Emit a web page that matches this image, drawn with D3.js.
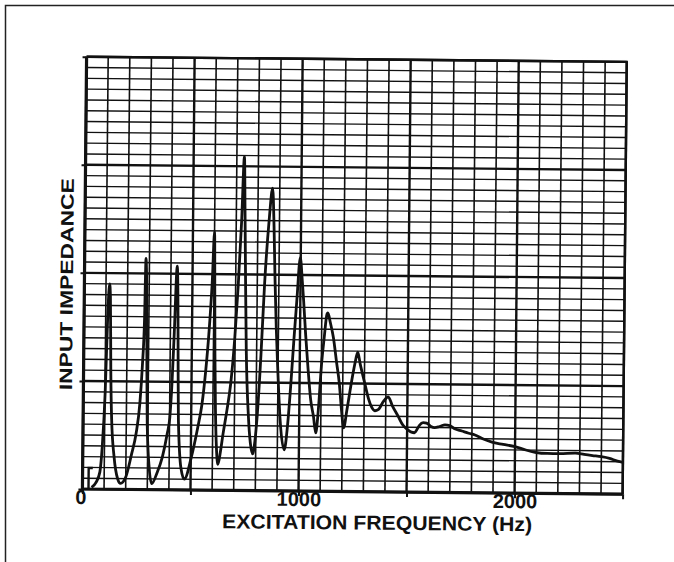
<!DOCTYPE html>
<html>
<head>
<meta charset="utf-8">
<script src="https://cdn.jsdelivr.net/npm/d3@7"></script>
<style>
  body { margin: 0; background: #fff; }
  text { font-family: "Liberation Sans", Arial, sans-serif; font-weight: bold; fill: #111; }
</style>
</head>
<body>
<div id="chart"></div>
<script>
// values: frequency in Hz, impedance in grid divisions
const freq = [42, 62, 80, 90, 101, 110, 117, 121, 126, 132, 145, 162, 176, 199, 225, 246, 262, 272, 280, 284,
  289, 293, 297, 308, 320, 345, 368, 390, 401, 410, 418, 429, 434, 437, 441, 455, 471, 502, 530, 549,
  565, 578, 592, 600, 604, 607, 612, 618, 626, 637, 648, 665, 681, 698, 712, 725, 735, 740, 746, 752,
  765, 775, 786, 796, 805, 820, 834, 852, 867, 875, 882, 890, 898, 912, 932, 946, 960, 972, 984, 998,
  1008, 1015, 1026, 1038, 1052, 1066, 1077, 1088, 1100, 1112, 1124, 1128, 1140, 1155, 1170, 1184, 1195, 1206, 1220, 1240,
  1255, 1268, 1280, 1301, 1320, 1333, 1350, 1365, 1390, 1411, 1430, 1458, 1480, 1504, 1520, 1534, 1548, 1557, 1574, 1590,
  1610, 1627, 1650, 1675, 1697, 1720, 1753, 1785, 1814, 1850, 1893, 1945, 2000, 2050, 2093, 2150, 2205, 2280, 2320, 2359,
  2400, 2438, 2475, 2500];
const impedance = [0.15, 0.6, 1.6, 4.0, 9.0, 16.5, 19.0, 17.8, 11, 6.5, 3.0, 1.0, 0.55, 1.1, 3.2, 5.2, 8, 11.5, 15.9, 21.4,
  18, 11, 6, 2.0, 0.55, 1.6, 3.0, 5.2, 6.65, 10, 14.5, 20.7, 17, 12, 6.5, 2.0, 1.0, 3.0, 5.7, 7.9,
  11, 14.4, 19.5, 23.9, 18, 12.8, 7.5, 4.0, 2.4, 3.6, 5.2, 7.4, 9.8, 14, 19.0, 25, 30.9, 26, 19, 13,
  6.8, 4.4, 3.4, 4.6, 6.8, 12.5, 19.2, 25, 28.0, 24.5, 19.5, 15, 11.5, 6.5, 3.8, 6, 10, 14, 17.7, 21.6,
  19.5, 17.7, 14.5, 11.5, 8.5, 6.9, 5.4, 7.5, 11.5, 14.2, 16.4, 16.5, 15.6, 14.2, 12, 10, 7.6, 5.9, 7.5, 10.1,
  11.8, 12.9, 11.8, 10.1, 8.6, 7.9, 7.5, 7.6, 8.4, 8.8, 8.0, 7.0, 6.2, 5.75, 5.55, 5.5, 5.9, 6.2, 6.45, 6.4,
  6.1, 6.0, 6.1, 6.25, 6.2, 5.9, 5.7, 5.5, 5.35, 5.0, 4.7, 4.5, 4.3, 4.0, 3.8, 3.7, 3.7, 3.75, 3.65, 3.55,
  3.45, 3.3, 3.05, 2.95];

// little pen mark where the trace starts
const startFreq = [28, 28, 47];
const startImp = [0, 1.95, 1.95];

const xTicks = [0, 500, 1000, 1500, 2000, 2500];
const xTickLabels = ["0", "", "1000", "", "2000", ""];
const yTicks = [0, 10, 20, 30, 40];
const xTitle = "EXCITATION FREQUENCY (Hz)";
const yTitle = "INPUT IMPEDANCE";

const width = 674, height = 562;
const plot = { left: 84.5, right: 624.7, top: 59.3, bottom: 491.6 };

const x = d3.scaleLinear().domain([0, 2500]).range([plot.left, plot.right]);
const y = d3.scaleLinear().domain([0, 40]).range([plot.bottom, plot.top]);

const svg = d3.select("#chart").append("svg")
    .attr("width", width)
    .attr("height", height);

// page edge visible in the scan
svg.append("path")
    .attr("d", "M5.5,562V5.5H674")
    .attr("fill", "none")
    .attr("stroke", "#222")
    .attr("stroke-width", 1.5);

// the scan is slightly tilted
const g = svg.append("g")
    .attr("transform", "rotate(0.55,354.6,275.5)");

// grid
g.append("g").selectAll("line")
    .data(d3.range(0, 2501, 100))
  .enter().append("line")
    .attr("x1", d => x(d)).attr("x2", d => x(d))
    .attr("y1", plot.top).attr("y2", plot.bottom)
    .attr("stroke", "#111")
    .attr("stroke-width", d => d % 500 === 0 ? 2.4 : 1.6);

g.append("g").selectAll("line")
    .data(d3.range(0, 41, 1))
  .enter().append("line")
    .attr("x1", plot.left).attr("x2", plot.right)
    .attr("y1", d => y(d)).attr("y2", d => y(d))
    .attr("stroke", "#111")
    .attr("stroke-width", d => d % 10 === 0 ? 2.4 : 1.4);

// axes
const xAxis = g.append("g")
    .attr("transform", "translate(0," + plot.bottom + ")")
    .call(d3.axisBottom(x).tickValues(xTicks).tickSize(5)
        .tickFormat((d, i) => xTickLabels[i]));
xAxis.select(".domain").remove();
xAxis.selectAll("line").attr("stroke", "#111").attr("stroke-width", 2);
xAxis.selectAll("text")
    .attr("y", 15).attr("dy", null)
    .attr("fill", "#111")
    .style("font-size", "20px")
    .style("font-family", "'Liberation Sans', Arial, sans-serif");
xAxis.selectAll(".tick").filter(d => d === 0).select("text").attr("x", -2);

const yAxis = g.append("g")
    .attr("transform", "translate(" + plot.left + ",0)")
    .call(d3.axisLeft(y).tickValues(yTicks).tickSize(4).tickFormat(""));
yAxis.select(".domain").remove();
yAxis.selectAll("line").attr("stroke", "#111").attr("stroke-width", 2);

// heavy frame
g.append("path")
    .attr("d", `M${plot.left},${plot.top}V${plot.bottom}H${plot.right}`)
    .attr("fill", "none").attr("stroke", "#111").attr("stroke-width", 3.2);
g.append("path")
    .attr("d", `M${plot.left},${plot.top}H${plot.right}V${plot.bottom}`)
    .attr("fill", "none").attr("stroke", "#111").attr("stroke-width", 2.4);

// trace
const line = d3.line()
    .x(d => x(d[0]))
    .y(d => y(d[1]));

g.append("path")
    .datum(d3.zip(startFreq, startImp))
    .attr("d", line.curve(d3.curveLinear))
    .attr("fill", "none").attr("stroke", "#111").attr("stroke-width", 2.4);

g.append("path")
    .datum(d3.zip(freq, impedance))
    .attr("d", line.curve(d3.curveMonotoneX))
    .attr("fill", "none")
    .attr("stroke", "#111")
    .attr("stroke-width", 2.8)
    .attr("stroke-linejoin", "round");

// titles
g.append("text")
    .attr("x", 379.5).attr("y", 529.5)
    .attr("text-anchor", "middle")
    .attr("textLength", 310).attr("lengthAdjust", "spacingAndGlyphs")
    .style("font-size", "20px")
    .text(xTitle);

g.append("text")
    .attr("transform", "translate(73,287) rotate(-90)")
    .attr("text-anchor", "middle")
    .attr("textLength", 212).attr("lengthAdjust", "spacingAndGlyphs")
    .style("font-size", "18px")
    .text(yTitle);
</script>
</body>
</html>
